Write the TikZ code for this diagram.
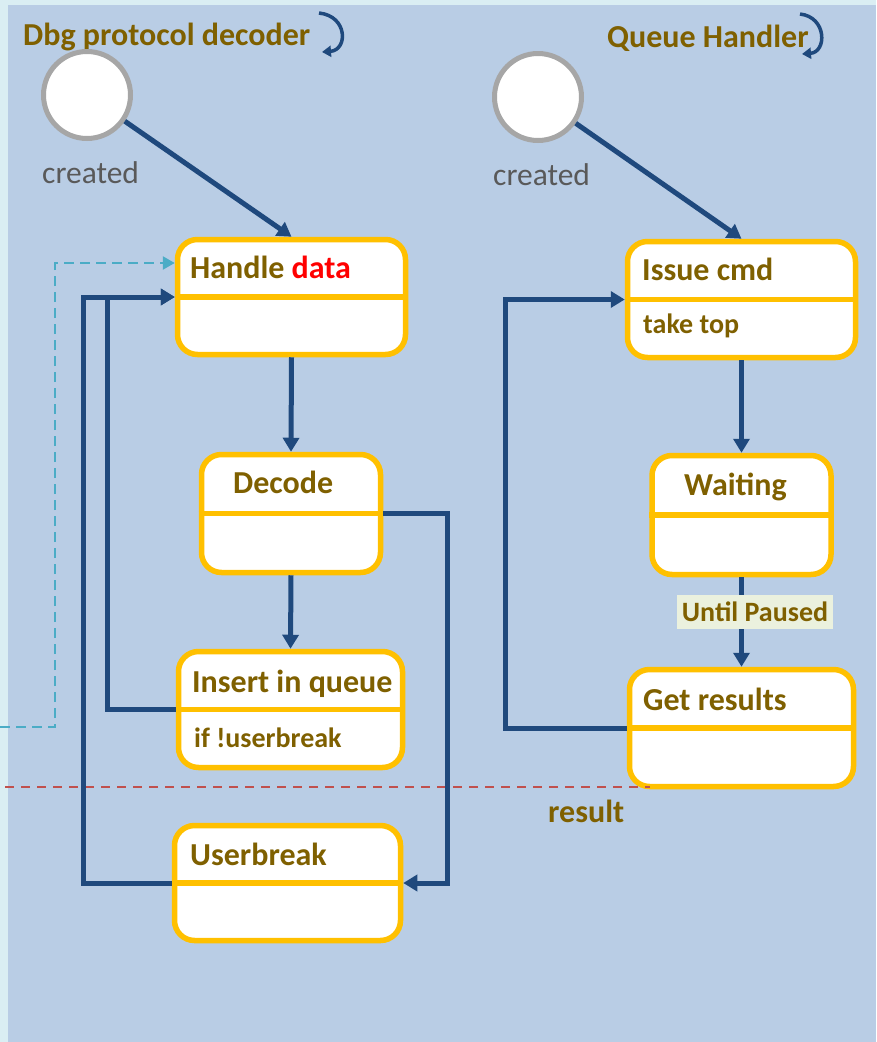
\documentclass[tikz,border=0pt]{standalone}
\usepackage{fontspec}
\setmainfont{Carlito}
\usetikzlibrary{arrows.meta}

\definecolor{paneOuter}{HTML}{DAEEF3}
\definecolor{paneInner}{HTML}{B9CDE5}
\definecolor{stateEdge}{HTML}{FFC000}
\definecolor{flowBlue}{HTML}{1F497D}
\definecolor{olive}{HTML}{7F6000}
\definecolor{ringGray}{HTML}{A6A6A6}
\definecolor{labelGray}{HTML}{595959}
\definecolor{dashCyan}{HTML}{4BACC6}
\definecolor{dashRed}{HTML}{C0504D}
\definecolor{tagFill}{HTML}{EBF1DE}

\tikzset{
  statebox/.style={draw=stateEdge, line width=5.5pt, fill=white, rounded corners=20pt,
    rectangle, inner sep=0pt},
  startdot/.style={circle, draw=ringGray, line width=5pt, fill=white,
    minimum size=87pt, inner sep=0pt},
  divider/.style={draw=stateEdge, line width=5.5pt},
  conn/.style={draw=flowBlue, line width=5pt,
    -{Triangle[length=14pt,width=16pt]}},
  ttl/.style={anchor=base west, inner sep=0pt, text=olive,
    font=\fontsize{32}{38}\selectfont\bfseries},
  sub/.style={anchor=base west, inner sep=0pt, text=olive,
    font=\fontsize{28}{34}\selectfont\bfseries},
  capline/.style={anchor=base west, inner sep=0pt, text=labelGray,
    font=\fontsize{31.5}{38}\selectfont},
  loopmark/.style={draw=flowBlue, line width=3.5pt,
    -{Triangle[length=9pt,width=11pt]}},
}

\begin{document}
\begin{tikzpicture}[x=1pt,y=-1pt]
  % panes
  \fill[paneOuter] (0,0) rectangle (876,1042);
  \fill[paneInner] (8,5) rectangle (876,1042);
  \useasboundingbox (0,0) rectangle (876,1042);

  % section titles with loop marks
  \node[ttl] (tDec) at (23,45) {Dbg protocol decoder};
  \node[ttl] (tQue) at (607,47) {Queue Handler};
  \coordinate (lpA1) at (319,13);
  \coordinate (lpA2) at (322,52);
  \draw[loopmark] (lpA1) .. controls (348,16) and (348,50) .. (lpA2);
  \coordinate (lpB1) at (800,14);
  \coordinate (lpB2) at (802,54);
  \draw[loopmark] (lpB1) .. controls (827,17) and (827,52) .. (lpB2);

  % initial states
  \node[startdot] (c1) at (87,95) {};
  \node[startdot] (c2) at (538,97) {};
  \node[capline] (c1T) at (42,183) {created};
  \node[capline] (c2T) at (493,185) {created};

  % decoder states
  \node[statebox, minimum width=228pt, minimum height=115pt] (hd) at (291.5,297) {};
  \node[statebox, minimum width=179pt, minimum height=118pt] (dec) at (291,513.5) {};
  \node[statebox, minimum width=224pt, minimum height=116pt] (ins) at (290.5,709.5) {};
  \node[statebox, minimum width=226pt, minimum height=115pt] (ub) at (287.5,883) {};

  % queue handler states
  \node[statebox, minimum width=228pt, minimum height=116pt] (ic) at (741.5,299.5) {};
  \node[statebox, minimum width=179pt, minimum height=119pt] (wt) at (741.5,515) {};
  \node[statebox, minimum width=224pt, minimum height=117pt] (gr) at (741.5,728) {};

  % compartment dividers
  \foreach \b in {hd,dec,ins,ub,ic,wt,gr}
    \draw[divider] (\b.west) -- (\b.east);

  % state texts
  \node[ttl] (hdT) at (190,278) {Handle \textcolor{red}{data}};
  \node[ttl] (decT) at (233,493) {Decode};
  \node[ttl] (insT) at (192,692) {Insert in queue};
  \node[sub] (insB) at (194,747) {if !userbreak};
  \node[ttl] (ubT) at (190,865) {Userbreak};
  \node[ttl] (icT) at (642,280) {Issue cmd};
  \node[sub] (icB) at (643,333) {take top};
  \node[ttl] (wtT) at (684,495) {Waiting};
  \node[ttl] (grT) at (643,710) {Get results};

  % incoming data (dashed) and result boundary
  \coordinate (inA) at (0,727);
  \coordinate (inB) at (55,263);
  \draw[dashCyan, line width=2.5pt, dash pattern=on 10pt off 6pt,
        -{Triangle[length=12pt,width=13pt]}]
    (inA) -| (inB) -- (inB -| hd.west);
  \coordinate (rsA) at (5,787);
  \coordinate (rsB) at (650,787);
  \draw[dashRed, line width=2.5pt, dash pattern=on 9pt off 7pt] (rsA) -- (rsB);
  \node[ttl] (rsT) at (548,822) {result};

  % decoder transitions
  \draw[conn] (c1) -- (hd.north);
  \draw[conn] (hd.south) -- (dec.north);
  \draw[conn] (dec.south) -- (ins.north);
  \coordinate (insL) at (107,709.5);
  \draw[conn] (ins.west) -- (insL) |- (hd.west);
  \coordinate (ubL) at (83,883);
  \draw[conn] (ub.west) -- (ubL) |- (hd.west);
  \coordinate (decR) at (447,513.5);
  \draw[conn] (dec.east) -- (decR) |- (ub.east);

  % queue handler transitions
  \draw[conn] (c2) -- (ic.north);
  \draw[conn] (ic.south) -- (wt.north);
  \draw[conn] (wt.south) -- (gr.north);
  \coordinate (grL) at (505,728);
  \draw[conn] (gr.west) -- (grL) |- (ic.west);

  % guard label
  \node[fill=tagFill, text=olive, inner xsep=2pt, inner ysep=0pt,
        minimum height=34pt, minimum width=156pt,
        font=\fontsize{28}{34}\selectfont\bfseries] (guard) at (755,612) {Until Paused};
\end{tikzpicture}
\end{document}
